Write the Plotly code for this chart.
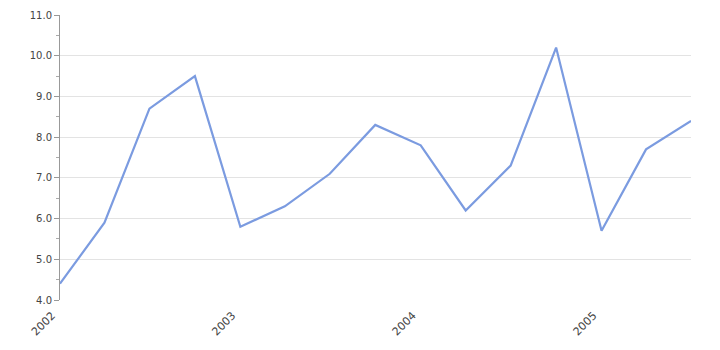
import plotly.graph_objects as go

dates = ["2002-01-01", "2002-04-01", "2002-07-01", "2002-10-01",
         "2003-01-01", "2003-04-01", "2003-07-01", "2003-10-01",
         "2004-01-01", "2004-04-01", "2004-07-01", "2004-10-01",
         "2005-01-01", "2005-04-01", "2005-07-01"]
values = [4.4, 5.9, 8.7, 9.5, 5.8, 6.3, 7.1, 8.3, 7.8, 6.2, 7.3, 10.2, 5.7, 7.7, 8.4]
year_ticks = ["2002-01-01", "2003-01-01", "2004-01-01", "2005-01-01"]
year_labels = ["2002", "2003", "2004", "2005"]

fig = go.Figure()
fig.add_trace(go.Scatter(x=dates, y=values, mode="lines",
                         line=dict(color="#7b9be0", width=2.2), showlegend=False))

fig.update_layout(
    width=720, height=350,
    margin=dict(l=60, r=29, t=15, b=50),
    plot_bgcolor="white", paper_bgcolor="white",
    font=dict(family="DejaVu Sans", size=10, color="#444444"),
)
fig.update_xaxes(
    type="date", range=["2002-01-01", "2005-07-01"], automargin=False,
    tickmode="array", tickvals=year_ticks, ticktext=year_labels,
    tickangle=-45, showgrid=False, showline=False, zeroline=False,
    ticks="", ticklabelstandoff=6, ticklabelshift=-8,
    tickfont=dict(size=11, color="#444444"),
)
fig.update_yaxes(
    range=[4.0, 11.0], automargin=False,
    tickmode="linear", tick0=4, dtick=1, tickformat=".1f",
    showgrid=True, gridcolor="#e3e3e3", gridwidth=1,
    showline=True, linecolor="#999999", linewidth=1, zeroline=False,
    ticks="outside", ticklen=5, tickcolor="#999999",
    minor=dict(dtick=0.5, ticks="outside", ticklen=3, tickcolor="#aaaaaa", showgrid=False),
    tickfont=dict(size=10, color="#444444"),
)

fig.write_html("out.html")
